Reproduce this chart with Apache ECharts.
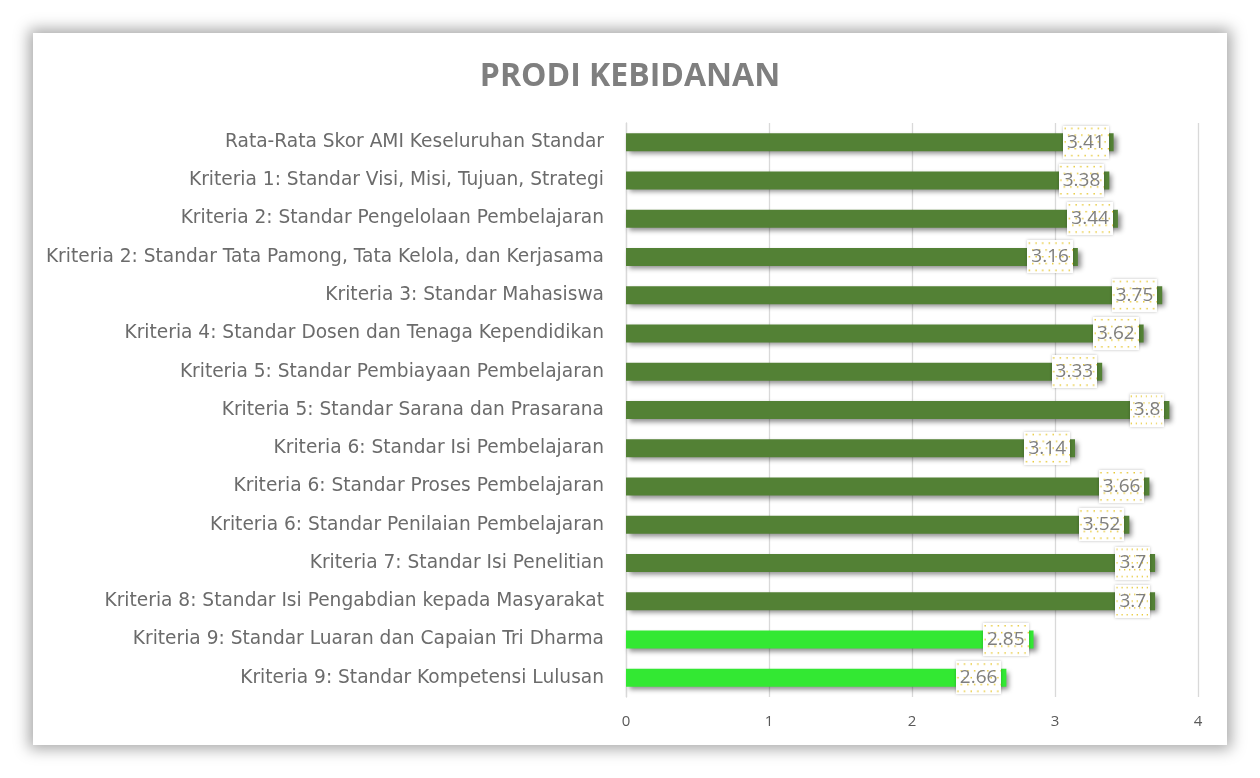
<!DOCTYPE html>
<html>
<head>
<meta charset="utf-8">
<script src="https://cdn.jsdelivr.net/npm/echarts@6/dist/echarts.min.js"></script>
<style>
html,body{margin:0;padding:0;background:#ffffff;}
#card{position:absolute;left:33px;top:33px;width:1194px;height:712px;background:#fff;box-shadow:0 0 14px 4px rgba(0,0,0,0.35);}
#chart{position:absolute;left:0;top:0;width:1260px;height:778px;}
</style>
</head>
<body>
<div id="card"></div>
<div id="chart"></div>
<script>
const titleText = 'PRODI KEBIDANAN';
const categories = [
  'Rata-Rata Skor AMI Keseluruhan Standar',
  'Kriteria 1: Standar Visi, Misi, Tujuan, Strategi',
  'Kriteria 2: Standar Pengelolaan Pembelajaran',
  'Kriteria 2: Standar Tata Pamong, Tata Kelola, dan Kerjasama',
  'Kriteria 3: Standar Mahasiswa',
  'Kriteria 4: Standar Dosen dan Tenaga Kependidikan',
  'Kriteria 5: Standar Pembiayaan Pembelajaran',
  'Kriteria 5: Standar Sarana dan Prasarana',
  'Kriteria 6: Standar Isi Pembelajaran',
  'Kriteria 6: Standar Proses Pembelajaran',
  'Kriteria 6: Standar Penilaian Pembelajaran',
  'Kriteria 7: Standar Isi Penelitian',
  'Kriteria 8: Standar Isi Pengabdian kepada Masyarakat',
  'Kriteria 9: Standar Luaran dan Capaian Tri Dharma',
  'Kriteria 9: Standar Kompetensi Lulusan'
];
const values = [3.41, 3.38, 3.44, 3.16, 3.75, 3.62, 3.33, 3.8, 3.14, 3.66, 3.52, 3.7, 3.7, 2.85, 2.66];
const barColors = ['#538135','#538135','#538135','#538135','#538135','#538135','#538135','#538135','#538135','#538135','#538135','#538135','#538135','#33e833','#33e833'];
const xTicks = [0, 1, 2, 3, 4];

// dotted label background pattern (stretched to the label box)
const pc = document.createElement('canvas');
pc.width = 48; pc.height = 34;
const pctx = pc.getContext('2d');
pctx.fillStyle = '#ffffff'; pctx.fillRect(0, 0, 48, 34);
pctx.fillStyle = '#e8c830';
for (let y = 2, r = 0; y < 34; y += 7, r++) {
  for (let x = (r % 2) ? 5 : 1.5; x < 48; x += 7) {
    pctx.fillRect(x, y, 1.5, 1.5);
  }
}

const font = '"Open Sans", sans-serif';
const catFont = '"DejaVu Sans", sans-serif';
const chart = echarts.init(document.getElementById('chart'), null, {renderer:'canvas'});
chart.setOption({
  backgroundColor: 'transparent',
  animation: false,
  title: {
    text: titleText, left: 'center', top: 56,
    textStyle: {fontFamily: font, fontSize: 32, fontWeight: 'bold', color: '#7f7f7f'}
  },
  grid: {left: 626, right: 62, top: 123, bottom: 81, containLabel: false},
  xAxis: {
    type: 'value', min: xTicks[0], max: xTicks[xTicks.length-1], interval: 1,
    axisLine: {show: false}, axisTick: {show: false},
    splitLine: {lineStyle: {color: '#d9d9d9', width: 1.3}},
    axisLabel: {color: '#595959', fontSize: 15, fontFamily: font, margin: 17}
  },
  yAxis: {
    type: 'category', data: categories, inverse: true,
    axisLine: {show: true, lineStyle: {color: '#d9d9d9', width: 1.3}},
    axisTick: {show: false},
    axisLabel: {color: '#6b6b6b', fontSize: 18.6, fontFamily: catFont, margin: 22}
  },
  series: [{
    type: 'bar',
    barWidth: 18,
    data: values.map((v, i) => ({value: v, itemStyle: {color: barColors[i]}})),
    itemStyle: {shadowColor: 'rgba(0,0,0,0.45)', shadowBlur: 5, shadowOffsetX: 3, shadowOffsetY: 3},
    label: {
      show: true, position: 'insideRight', distance: 5,
      color: '#7f7f7f', fontSize: 19, fontFamily: font,
      backgroundColor: {image: pc}, padding: [8, 4, 6, 4],
      shadowColor: 'rgba(0,0,0,0.25)', shadowBlur: 3
    }
  }]
});
</script>
</body>
</html>
